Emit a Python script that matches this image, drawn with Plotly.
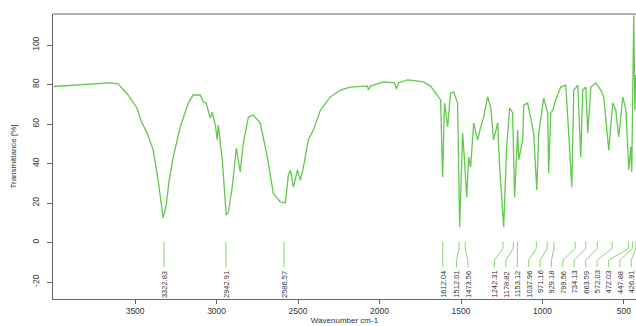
import plotly.graph_objects as go

# Spectrum trace (wavenumber cm-1, transmittance %)
wavenumber = [4000, 3838, 3654, 3604, 3543, 3488, 3463, 3426, 3389, 3359, 3340, 3328, 3309, 3291,
              3266, 3223, 3174, 3144, 3100, 3082, 3064, 3051, 3039, 3027, 3008, 2996, 2990, 2965,
              2953, 2941, 2928, 2916, 2904, 2879, 2855, 2836, 2805, 2775, 2732, 2689, 2652, 2609,
              2578, 2560, 2547, 2529, 2504, 2486, 2467, 2437, 2406, 2363, 2302, 2240, 2179, 2074,
              2068, 2056, 1976, 1908, 1896, 1884, 1828, 1730, 1687, 1656, 1625, 1613, 1601, 1582,
              1564, 1545, 1521, 1508, 1490, 1484, 1465, 1453, 1441, 1422, 1398, 1379, 1361, 1337,
              1318, 1300, 1275, 1263, 1238, 1220, 1201, 1183, 1171, 1152, 1146, 1121, 1115, 1091,
              1072, 1054, 1035, 1023, 992, 968, 962, 949, 937, 919, 888, 857, 839, 820, 808, 783,
              765, 753, 734, 722, 703, 673, 642, 624, 593, 569, 550, 532, 507, 488, 470, 458, 452,
              446, 440, 433, 427, 421]
transmittance = [79.0, 79.7, 80.8, 80.3, 74.7, 68.0, 61.5, 55.4, 46.8, 31.6, 19.0, 12.4, 19.0, 31.6,
                 43.3, 58.5, 70.6, 74.7, 74.7, 71.1, 70.6, 67.0, 63.0, 66.0, 59.5, 52.0, 59.5, 41.8,
                 26.6, 13.9, 15.4, 21.5, 28.0, 47.8, 35.7, 50.4, 63.5, 64.5, 60.5, 43.3, 25.0, 20.5,
                 20.0, 34.0, 36.7, 28.0, 36.7, 31.6, 38.2, 52.0, 57.0, 67.0, 73.7, 77.2, 78.7, 79.2,
                 77.2, 79.2, 81.3, 80.8, 77.7, 80.8, 82.3, 81.3, 79.2, 75.7, 72.2, 33.2, 70.6, 58.5,
                 75.7, 76.2, 70.6, 7.8, 55.4, 48.4, 23.0, 43.3, 38.2, 60.5, 52.0, 58.5, 63.5, 73.7,
                 68.6, 52.0, 60.5, 38.2, 7.8, 48.4, 68.1, 65.6, 23.0, 57.0, 41.8, 52.0, 69.6, 70.6,
                 62.0, 55.4, 26.6, 55.4, 73.2, 65.6, 35.2, 65.6, 67.0, 72.2, 78.7, 79.7, 55.4, 28.0,
                 77.2, 79.7, 43.3, 77.2, 78.7, 55.4, 78.7, 80.8, 77.2, 73.7, 46.8, 70.6, 67.0, 53.4,
                 73.7, 67.0, 36.7, 48.4, 35.7, 82.3, 115.0, 67.0, 84.8, 81.0]

# Peak labels
peaks = [3322.83, 2942.91, 2586.57, 1612.04, 1512.01, 1473.56, 1242.31, 1178.82, 1153.12,
         1037.96, 971.16, 929.18, 799.56, 734.13, 663.59, 572.03, 472.03, 447.88, 426.91]
peak_labels = ["3322.83", "2942.91", "2586.57", "1612.04", "1512.01", "1473.56", "1242.31",
               "1178.82", "1153.12", "1037.96", "971.16", "929.18", "799.56", "734.13",
               "663.59", "572.03", "472.03", "447.88", "426.91"]

x_ticks = [3500, 3000, 2500, 2000, 1500, 1000, 500]
y_ticks = [-20, 0, 20, 40, 60, 80, 100]
y_ticktext = ["-20", "0", "20", "40", "60", "80", "100"]

X_RANGE = [4004, 426]
Y_RANGE = [-28.6, 115.7]

# simple label repel (layout only)
sep = 70.0
lo_bound = 455.0
pos = list(peaks)
for _ in range(2000):
    for i in range(len(pos) - 1):
        d = pos[i] - pos[i + 1]
        if d < sep:
            push = (sep - d) / 2
            pos[i] += push
            pos[i + 1] -= push
    pos = [max(lo_bound, p) for p in pos]

line_x, line_y = [], []
for p, q in zip(peaks, pos):
    line_x += [p, p, q, q, None]
    line_y += [0.5, -3.0, -9.0, -12.5, None]

fig = go.Figure()
fig.add_trace(go.Scatter(x=wavenumber, y=transmittance, mode="lines",
                         line=dict(color="#62c94c", width=1.3), hoverinfo="skip"))
fig.add_trace(go.Scatter(x=line_x, y=line_y, mode="lines",
                         line=dict(color="#86d672", width=1), hoverinfo="skip"))

for q, t in zip(pos, peak_labels):
    fig.add_annotation(x=q, y=-13.2, text=t, textangle=-90, showarrow=False,
                       xanchor="center", yanchor="top",
                       font=dict(size=7.5, color="#333333", family="Liberation Sans"))

fig.add_shape(type="line", xref="paper", yref="paper", x0=0, x1=1, y0=1, y1=1,
              line=dict(color="#666666", width=1))

fig.update_layout(
    width=636, height=326,
    margin=dict(l=53, r=0, t=14, b=27),
    paper_bgcolor="white", plot_bgcolor="white",
    showlegend=False,
    font=dict(family="Liberation Sans", color="#333333"),
    xaxis=dict(range=X_RANGE, tickvals=x_ticks, ticks="outside", ticklen=4,
               tickcolor="#666666", showline=True, linecolor="#666666", linewidth=1,
               showgrid=False, zeroline=False, tickfont=dict(size=8.5), automargin=False,
               title=dict(text="Wavenumber cm-1", font=dict(size=8), standoff=0)),
    yaxis=dict(range=Y_RANGE, tickvals=y_ticks, ticktext=y_ticktext, tickangle=-90,
               ticks="outside", ticklen=5, tickcolor="#666666", showline=True,
               linecolor="#666666", linewidth=1, showgrid=False, zeroline=False,
               tickfont=dict(size=8.5), ticklabelstandoff=5, automargin=False,
               title=dict(text="Transmittance [%]", font=dict(size=8), standoff=12)),
)

fig.write_html(
    "out.html",
    config={"displayModeBar": False},
    post_script="document.body.style.margin='0';document.body.style.overflow='hidden';",
)
